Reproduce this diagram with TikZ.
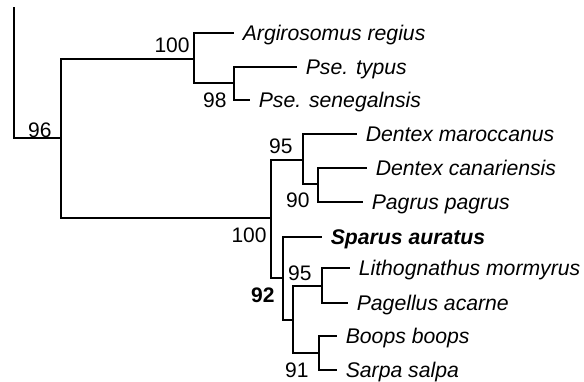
\documentclass[tikz,border=0pt]{standalone}
\usepackage{fontspec}
\setmainfont{Liberation Sans}
\usetikzlibrary{positioning}
\tikzset{
	branch/.style={line width=1.05pt},
	taxon/.style={anchor=west, inner xsep=4.2pt, inner ysep=0pt, text height=7.6pt, text depth=0pt, font=\fontsize{10.6}{12}\selectfont\itshape},
	boot/.style={anchor=base east, inner sep=0pt, font=\fontsize{10.5}{12}\selectfont}
}
\begin{document}
\begin{tikzpicture}[x=0.5pt, y=-0.5pt]
			\useasboundingbox (0,0) rectangle (584,381);
			\coordinate (rtop) at (14,7);
			\coordinate (r) at (14,138);
			\coordinate (A) at (61,138);
			\coordinate (B) at (194,59);
			\coordinate (C) at (234,83);
			\coordinate (D) at (271,218);
			\coordinate (E) at (303,160);
			\coordinate (F) at (318,184);
			\coordinate (G) at (283,278);
			\coordinate (H) at (293,320);
			\coordinate (I) at (322,286);
			\coordinate (J) at (319,353);

			\node[taxon] (argi) at (234,33) {Argirosomus regius};
			\node[taxon] (ptyp) at (297,67) {Pse. typus};
			\node[taxon] (psen) at (250,100) {Pse. senegalnsis};
			\node[taxon] (dmar) at (357,134) {Dentex maroccanus};
			\node[taxon] (dcan) at (367,168) {Dentex canariensis};
			\node[taxon] (ppag) at (363,202) {Pagrus pagrus};
			\node[taxon, font=\fontsize{10.6}{12}\selectfont\bfseries\itshape] (saur) at (322,237) {Sparus auratus};
			\node[taxon] (lmor) at (350,268) {Lithognathus mormyrus};
			\node[taxon] (pace) at (348,303) {Pagellus acarne};
			\node[taxon] (bboo) at (337,336) {Boops boops};
			\node[taxon] (ssal) at (337,370) {Sarpa salpa};

			\node[boot] (b96) at (52,137) {96};
			\node[boot] (bB) at (190,52) {100};
			\node[boot] (bC) at (227,107) {98};
			\node[boot] (bE) at (293,153) {95};
			\node[boot] (bF) at (310,207) {90};
			\node[boot] (bD) at (267,242) {100};
			\node[boot, font=\fontsize{10.5}{12}\selectfont\bfseries] (bG) at (275,302) {92};
			\node[boot] (bH) at (312,280) {95};
			\node[boot] (bJ) at (309,377) {91};

			\draw[branch] (rtop) -- (r) -- (A);
			\draw[branch] (A) |- (B);
			\draw[branch] (A) |- (D);
			\draw[branch] (B) |- (argi);
			\draw[branch] (B) |- (C);
			\draw[branch] (C) |- (ptyp);
			\draw[branch] (C) |- (psen);
			\draw[branch] (D) |- (E);
			\draw[branch] (D) |- (G);
			\draw[branch] (E) |- (dmar);
			\draw[branch] (E) |- (F);
			\draw[branch] (F) |- (dcan);
			\draw[branch] (F) |- (ppag);
			\draw[branch] (G) |- (saur);
			\draw[branch] (G) |- (H);
			\draw[branch] (H) |- (I);
			\draw[branch] (H) |- (J);
			\draw[branch] (I) |- (lmor);
			\draw[branch] (I) |- (pace);
			\draw[branch] (J) |- (bboo);
			\draw[branch] (J) |- (ssal);
		\end{tikzpicture}
\end{document}
